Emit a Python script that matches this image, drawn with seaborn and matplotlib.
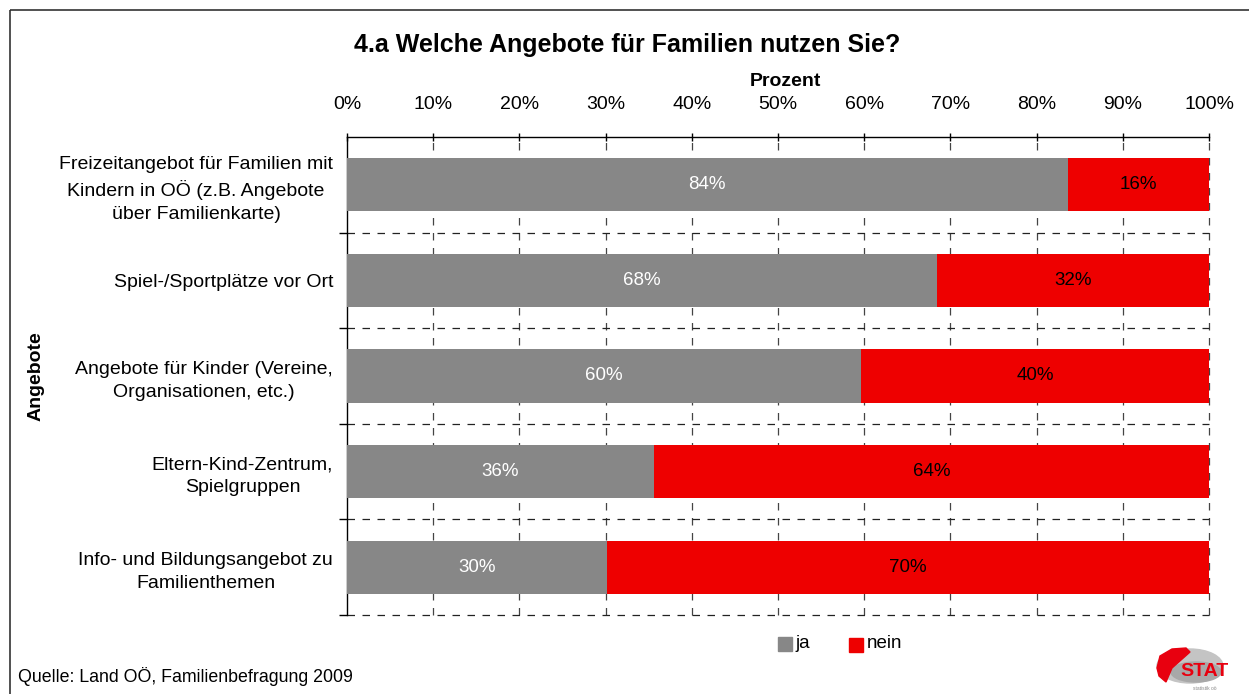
import matplotlib
matplotlib.use("Agg")
import matplotlib.pyplot as plt
import seaborn as sns
import pandas as pd
import numpy as np
from matplotlib.patches import Rectangle, Ellipse, Polygon

categories = [
    "Freizeitangebot für Familien mit\nKindern in OÖ (z.B. Angebote\nüber Familienkarte)",
    "Spiel-/Sportplätze vor Ort",
    "Angebote für Kinder (Vereine,\nOrganisationen, etc.)",
    "Eltern-Kind-Zentrum,\nSpielgruppen",
    "Info- und Bildungsangebot zu\nFamilienthemen",
]
ja = [83.6, 68.4, 59.6, 35.6, 30.2]
nein = [16.4, 31.6, 40.4, 64.4, 69.8]
ja_labels = ["84%", "68%", "60%", "36%", "30%"]
nein_labels = ["16%", "32%", "40%", "64%", "70%"]
xticks = list(range(0, 101, 10))

GRAY = "#878787"
RED = "#EE0000"

sns.set_theme(style="white")
plt.rcParams["font.family"] = ["Liberation Sans", "DejaVu Sans"]
plt.rcParams["text.color"] = "black"
plt.rcParams["axes.labelcolor"] = "black"

df = pd.DataFrame({"cat": categories, "ja": ja, "nein": nein})
df["total"] = df["ja"] + df["nein"]

fig = plt.figure(figsize=(12.49, 6.94), dpi=100)
W, H = 1249, 694

# background pixel axes for decorations
bg = fig.add_axes([0, 0, 1, 1], zorder=-5)
bg.set_xlim(0, W)
bg.set_ylim(H, 0)
bg.axis("off")

AX_L, AX_R, AX_T, AX_B = 347, 1209, 137, 615
ax = fig.add_axes([AX_L/W, 1-AX_B/H, (AX_R-AX_L)/W, (AX_B-AX_T)/H])

sns.barplot(data=df, y="cat", x="total", orient="h", color=RED, saturation=1,
            width=0.555, ax=ax, zorder=3)
sns.barplot(data=df, y="cat", x="ja", orient="h", color=GRAY, saturation=1,
            width=0.555, ax=ax, zorder=3)
for p in ax.patches:
    p.set_edgecolor("none")

for i in range(len(categories)):
    ax.text(ja[i] / 2, i, ja_labels[i], ha="center", va="center",
            color="white", fontsize=13.5, zorder=4)
    ax.text(ja[i] + nein[i] / 2, i, nein_labels[i], ha="center", va="center",
            color="black", fontsize=13.5, zorder=4)

ax.set_xlim(0, 100)
ax.set_ylim(4.5, -0.5)
ax.xaxis.tick_top()
ax.xaxis.set_label_position("top")
ax.set_xticks(xticks)
ax.set_xticklabels([f"{t}%" for t in xticks], fontsize=14, color="black")
ax.set_xlabel("Prozent", fontsize=14, fontweight="bold")
ax.xaxis.set_label_coords((785-AX_L)/(AX_R-AX_L), (AX_B-82)/(AX_B-AX_T))
ax.xaxis.label.set_va("center")
ax.set_ylabel("Angebote", fontsize=14, fontweight="bold")
ax.yaxis.set_label_coords(-(AX_L-36)/(AX_R-AX_L), 0.5)
ax.yaxis.label.set_va("center")

ax.set_yticks(range(len(categories)))
ax.set_yticklabels(categories, fontsize=14, multialignment="center",
                   color="black", linespacing=1.45)
ax.tick_params(axis="y", which="major", length=0, pad=10)
ax.set_yticks([0.5, 1.5, 2.5, 3.5, 4.5], minor=True)
ax.tick_params(axis="y", which="minor", length=6, direction="out", color="black", width=1, left=True)
ax.tick_params(axis="x", which="major", length=6, direction="inout", color="black", width=1, top=True, pad=14)

# dashed gridlines
for x in xticks[1:]:
    ax.axvline(x, color="#444444", lw=0.9, ls=(0, (6, 6)), zorder=1, clip_on=False)
for y in [0.5, 1.5, 2.5, 3.5, 4.5]:
    ax.axhline(y, color="#222222", lw=0.9, ls=(0, (6, 6)), zorder=1, clip_on=False)

for s in ["right", "bottom"]:
    ax.spines[s].set_visible(False)
ax.spines["top"].set_color("black")
ax.spines["left"].set_color("black")
ax.spines["top"].set_linewidth(1)
ax.spines["left"].set_linewidth(1)

# title
fig.text(627/W, 1-45/H, "4.a Welche Angebote für Familien nutzen Sie?",
         ha="center", va="center", fontsize=18, fontweight="bold")

# legend
bg.add_patch(Rectangle((778, 637), 14, 14, color=GRAY))
bg.text(795, 643, "ja", ha="left", va="center", fontsize=13.5)
bg.add_patch(Rectangle((849, 638), 14, 14, color=RED))
bg.text(867, 643, "nein", ha="left", va="center", fontsize=13.5)

# source
bg.text(18, 676, "Quelle: Land OÖ, Familienbefragung 2009",
        ha="left", va="center", fontsize=12.8)

# border
bg.add_patch(Rectangle((10, 10), 1300, 800, fill=False, edgecolor="#333333", lw=1.2))

# logo
bg.add_patch(Ellipse((1190, 666), 66, 34, color="#c4c4c4"))
bg.add_patch(Ellipse((1196, 672), 50, 20, color="#a8a8a8"))
bg.add_patch(Polygon([[1157, 668], [1160, 656], [1172, 649], [1186, 648],
                      [1190, 652], [1172, 668], [1166, 682], [1159, 676]],
                     closed=True, color="#e8000f"))
bg.text(1205, 672, "STAT", color="#e8000f", fontsize=14, fontweight="bold",
        ha="center", va="center")
bg.text(1205, 688, "statistik oö", color="#888888", fontsize=3.5, ha="center", va="center")

fig.savefig("out.png", dpi=100)
